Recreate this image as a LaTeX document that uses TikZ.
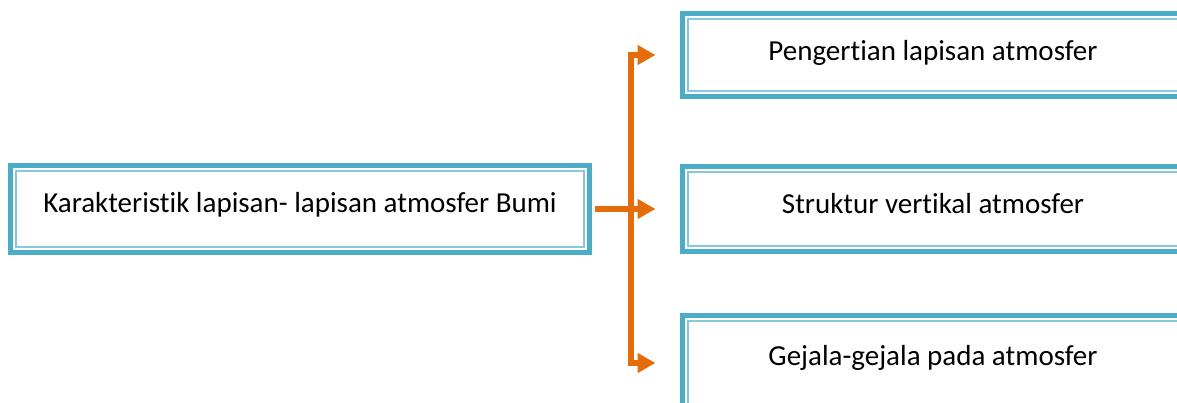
\documentclass[tikz,border=0pt]{standalone}
\usepackage{fontspec}
\setmainfont{Carlito}[Ligatures=NoCommon]
\usepackage{xcolor}
\usetikzlibrary{arrows.meta, positioning, calc}
\definecolor{tealout}{HTML}{4BACC6}
\definecolor{tealin}{HTML}{86C8DA}
\definecolor{arrorange}{HTML}{E46C0A}

\begin{document}
\begin{tikzpicture}[x=1pt, y=-1pt,
    frame/.style={rectangle, draw=tealout, line width=5pt, fill=white, align=center, font=\fontsize{29}{34}\selectfont,
        text height=14pt, text depth=7.4pt,
        path picture={\draw[tealin, line width=1.3pt] ($(path picture bounding box.south west)+(5.5,-5.5)$) rectangle ($(path picture bounding box.north east)+(-5.5,5.5)$);}},
    arrow/.style={-{Triangle[length=18pt, width=19pt]}, line width=6pt, draw=arrorange, line join=miter, shorten >=24.5pt}
]
    \clip (0,0) rectangle (1177,402);

    % Main box
    \node[frame, minimum width=579pt, minimum height=87pt] (main) at (300, 209) {Karakteristik lapisan- lapisan atmosfer Bumi};

    % Sub boxes
    \node[frame, minimum width=501pt, minimum height=83pt, text depth=2.6pt] (top) at (933, 55) {Pengertian lapisan atmosfer};
    \node[frame, minimum width=501pt, minimum height=85pt, text depth=5.4pt] (mid) at (933, 209) {Struktur vertikal atmosfer};
    \node[frame, minimum width=501pt, minimum height=95pt, text depth=9pt] (bot) at (933, 363) {Gejala-gejala pada atmosfer};

    % Flows
    \coordinate (split) at ($(main.east)+(38.5,0)$);
    \draw[arrow, shorten <=2.5pt] (main.east) -- (mid.west);
    \draw[arrow] (split) |- (top.west);
    \draw[arrow] (split) |- (bot.west);

\end{tikzpicture}
\end{document}
